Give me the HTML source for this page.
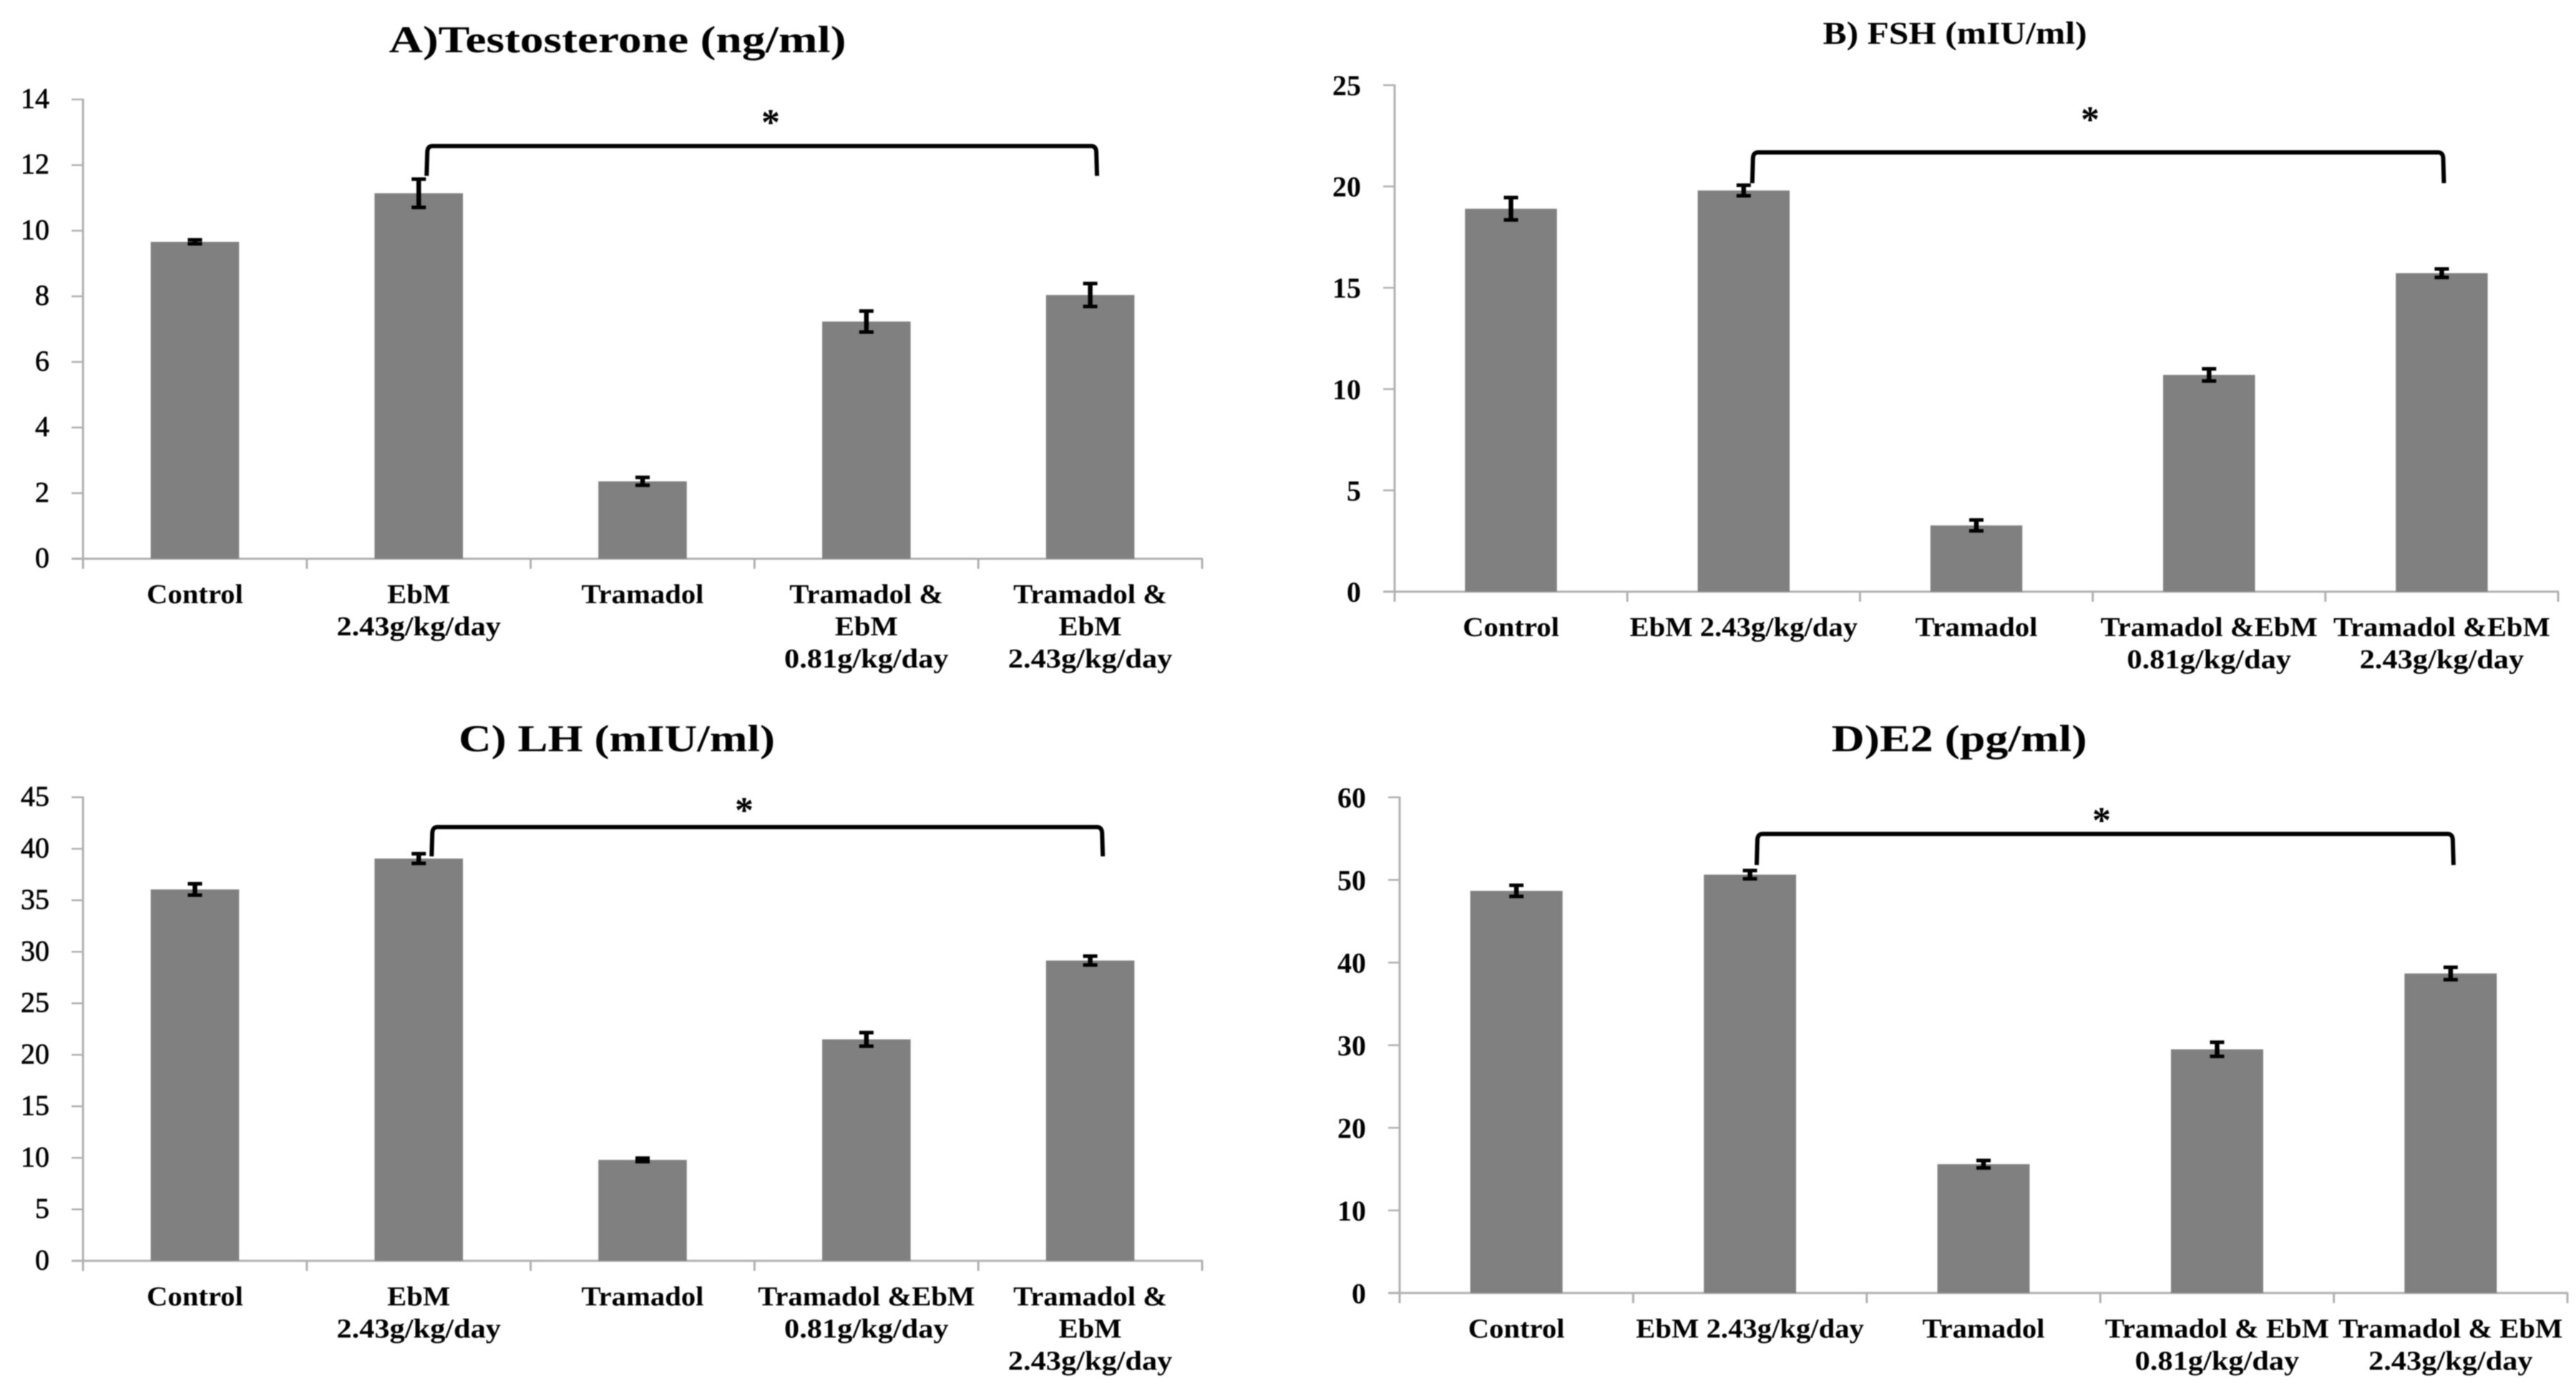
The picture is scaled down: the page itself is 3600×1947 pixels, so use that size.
<!DOCTYPE html>
<html lang="en">
<head>
<meta charset="utf-8">
<title>Hormone levels by treatment group</title>
<style>
  html, body { margin: 0; padding: 0; background: #fff; }
  body { width: 3600px; height: 1947px; overflow: hidden; }
  svg { display: block; filter: blur(0.8px); }
  text { font-family: "Liberation Serif", "Noto Serif CJK SC", serif; fill: #000; }
  .title { font-weight: bold; }
</style>
</head>
<body>
<svg id="figure" xmlns="http://www.w3.org/2000/svg" width="3600" height="1947" viewBox="0 0 3600 1947">
  <rect x="0" y="0" width="3600" height="1947" fill="#ffffff"/>
  <g id="panel-a">
    <text class="title" x="863" y="73" text-anchor="middle" font-size="53" textLength="639" lengthAdjust="spacingAndGlyphs">A)Testosterone (ng/ml)</text>
  </g>
  <g id="panel-b">
    <text class="title" x="2732" y="61" text-anchor="middle" font-size="44" textLength="369" lengthAdjust="spacingAndGlyphs">B) FSH (mIU/ml)</text>
  </g>
  <g id="panel-c">
    <text class="title" x="862" y="1050" text-anchor="middle" font-size="53" textLength="442" lengthAdjust="spacingAndGlyphs">C) LH (mIU/ml)</text>
  </g>
  <g id="panel-d">
    <text class="title" x="2738" y="1050" text-anchor="middle" font-size="53" textLength="357" lengthAdjust="spacingAndGlyphs">D)E2 (pg/ml)</text>
  </g>
</svg>
<script>
// ---- Panel A: Testosterone ----
const testosteroneCategories = [["Control"], ["EbM", "2.43g/kg/day"], ["Tramadol"], ["Tramadol &", "EbM", "0.81g/kg/day"], ["Tramadol &", "EbM", "2.43g/kg/day"]];
const testosteroneValues = [9.66, 11.14, 2.36, 7.23, 8.04];
const testosteroneErrors = [0.06, 0.43, 0.12, 0.32, 0.35];
const testosteroneTicks = [0, 2, 4, 6, 8, 10, 12, 14];

// ---- Panel B: FSH ----
const fshCategories = [["Control"], ["EbM 2.43g/kg/day"], ["Tramadol"], ["Tramadol &EbM", "0.81g/kg/day"], ["Tramadol &EbM", "2.43g/kg/day"]];
const fshValues = [18.9, 19.8, 3.27, 10.7, 15.72];
const fshErrors = [0.55, 0.26, 0.27, 0.3, 0.21];
const fshTicks = [0, 5, 10, 15, 20, 25];

// ---- Panel C: LH ----
const lhCategories = [["Control"], ["EbM", "2.43g/kg/day"], ["Tramadol"], ["Tramadol &EbM", "0.81g/kg/day"], ["Tramadol &", "EbM", "2.43g/kg/day"]];
const lhValues = [36.05, 39.05, 9.8, 21.5, 29.15];
const lhErrors = [0.55, 0.47, 0.17, 0.66, 0.43];
const lhTicks = [0, 5, 10, 15, 20, 25, 30, 35, 40, 45];

// ---- Panel D: E2 ----
const e2Categories = [["Control"], ["EbM 2.43g/kg/day"], ["Tramadol"], ["Tramadol & EbM", "0.81g/kg/day"], ["Tramadol & EbM", "2.43g/kg/day"]];
const e2Values = [48.68, 50.64, 15.6, 29.5, 38.68];
const e2Errors = [0.67, 0.5, 0.45, 0.85, 0.75];
const e2Ticks = [0, 10, 20, 30, 40, 50, 60];

const NS = "http://www.w3.org/2000/svg";

function make(tag, parent) {
  const el = document.createElementNS(NS, tag);
  parent.appendChild(el);
  return el;
}

function drawPanel(cfg) {
  const g = document.getElementById(cfg.id);
  const n = cfg.categories.length;
  const maxTick = cfg.ticks[cfg.ticks.length - 1];
  const xScale = (i) => cfg.x0 + (cfg.x1 - cfg.x0) * (i + 0.5) / n;
  const yScale = (v) => cfg.yBase - (cfg.yBase - cfg.yTop) * v / maxTick;
  const axisColor = "#b0b0b0";
  const band = (cfg.x1 - cfg.x0) / n;
  const barW = band * 0.395;

  // y axis line
  const yAxis = make("line", g);
  
  
  yAxis.setAttribute("x1", cfg.x0);
  yAxis.setAttribute("x2", cfg.x0);
  yAxis.setAttribute("y1", cfg.yTop - 1);
  yAxis.setAttribute("y2", cfg.yBase + 14);
  yAxis.setAttribute("stroke", axisColor);
  yAxis.setAttribute("stroke-width", 3);

  // x axis line
  const xAxis = make("line", g);
  
  
  xAxis.setAttribute("x1", cfg.x0 - 16);
  xAxis.setAttribute("x2", cfg.x1 + 1);
  xAxis.setAttribute("y1", cfg.yBase);
  xAxis.setAttribute("y2", cfg.yBase);
  xAxis.setAttribute("stroke", axisColor);
  xAxis.setAttribute("stroke-width", 3);

  // y ticks and labels
  cfg.ticks.forEach((t) => {
    const y = yScale(t);
    const mark = make("line", g);
    
    
    mark.setAttribute("x1", cfg.x0 - 16);
    mark.setAttribute("x2", cfg.x0);
    mark.setAttribute("y1", y);
    mark.setAttribute("y2", y);
    mark.setAttribute("stroke", axisColor);
    mark.setAttribute("stroke-width", 2.5);

    const label = make("text", g);
    
    
    label.setAttribute("x", cfg.x0 - 47);
    label.setAttribute("y", y + (cfg.boldTicks ? 14 : 12));
    label.setAttribute("text-anchor", "end");
    label.setAttribute("font-size", 40);
    if (cfg.boldTicks) {
      label.setAttribute("font-weight", "bold");
    } else {
      label.setAttribute("stroke", "#000");
      label.setAttribute("stroke-width", 0.7);
    }
    label.textContent = String(t);
  });

  // x ticks at category boundaries
  for (let i = 0; i <= n; i++) {
    const x = cfg.x0 + band * i;
    const mark = make("line", g);
    
    
    mark.setAttribute("x1", x);
    mark.setAttribute("x2", x);
    mark.setAttribute("y1", cfg.yBase);
    mark.setAttribute("y2", cfg.yBase + 14);
    mark.setAttribute("stroke", axisColor);
    mark.setAttribute("stroke-width", 3);
  }

  // bars, error bars, category labels
  cfg.values.forEach((v, i) => {
    const cx = xScale(i);
    const top = yScale(v);

    const bar = make("rect", g);
    
    
    bar.setAttribute("x", cx - barW / 2);
    bar.setAttribute("y", top);
    bar.setAttribute("width", barW);
    bar.setAttribute("height", cfg.yBase - top);
    bar.setAttribute("fill", "#808080");

    const hi = yScale(v + cfg.errors[i]);
    const lo = yScale(v - cfg.errors[i]);
    const err = make("path", g);
    
    
    err.setAttribute("d", "M" + (cx - 10) + " " + hi + "H" + (cx + 10) + "M" + (cx - 10) + " " + lo + "H" + (cx + 10));
    err.setAttribute("stroke", "#000");
    err.setAttribute("stroke-width", 5);
    err.setAttribute("fill", "none");

    const stem = make("line", g);
    
    
    stem.setAttribute("x1", cx);
    stem.setAttribute("x2", cx);
    stem.setAttribute("y1", hi);
    stem.setAttribute("y2", lo);
    stem.setAttribute("stroke", "#000");
    stem.setAttribute("stroke-width", 6.5);

    cfg.categories[i].forEach((line, j) => {
      const label = make("text", g);
      
      
      label.setAttribute("x", cx);
      label.setAttribute("y", cfg.yBase + 62 + j * 45);
      label.setAttribute("text-anchor", "middle");
      label.setAttribute("font-size", 38);
      label.setAttribute("font-weight", "bold");
      label.setAttribute("lengthAdjust", "spacingAndGlyphs");
      label.textContent = line;
      const widen = /^\d/.test(line) ? 1.115 : 1.07;
      label.setAttribute("textLength", label.getComputedTextLength() * widen);
    });
  });

  // significance bracket
  const bx0 = xScale(cfg.bracketFrom) + cfg.bracketOffsetLeft;
  const bx1 = xScale(cfg.bracketTo) + cfg.bracketOffsetRight;
  const byTop = yScale(cfg.bracketTop);
  const byBottom = yScale(cfg.bracketBottom);
  const bracket = make("path", g);
  
  
  bracket.setAttribute("d",
    "M" + bx0 + " " + byBottom +
    "L" + (bx0 + 1) + " " + (byTop + 8) +
    "Q" + (bx0 + 1.5) + " " + byTop + " " + (bx0 + 8) + " " + byTop +
    "H" + (bx1 - 8) +
    "Q" + (bx1 - 1.5) + " " + byTop + " " + (bx1 - 1) + " " + (byTop + 8) +
    "L" + bx1 + " " + byBottom);
  bracket.setAttribute("fill", "none");
  bracket.setAttribute("stroke", "#000");
  bracket.setAttribute("stroke-width", 6);

  const star = make("text", g);
  
  
  star.setAttribute("x", cfg.starX);
  star.setAttribute("y", yScale(cfg.starLevel) + 22);
  star.setAttribute("text-anchor", "middle");
  star.setAttribute("font-size", 52);
  star.setAttribute("font-weight", "bold");
  star.textContent = "*";
}

drawPanel({
  id: "panel-a", x0: 116, x1: 1680, yBase: 781, yTop: 139, boldTicks: false,
  categories: testosteroneCategories, values: testosteroneValues, errors: testosteroneErrors, ticks: testosteroneTicks,
  bracketFrom: 1, bracketTo: 4, bracketOffsetLeft: 11, bracketOffsetRight: 9.5, bracketTop: 12.58, bracketBottom: 11.67,
  starX: 1077, starLevel: 13.41
});
drawPanel({
  id: "panel-b", x0: 1949, x1: 3575, yBase: 827, yTop: 119, boldTicks: true,
  categories: fshCategories, values: fshValues, errors: fshErrors, ticks: fshTicks,
  bracketFrom: 1, bracketTo: 4, bracketOffsetLeft: 12, bracketOffsetRight: 3, bracketTop: 21.68, bracketBottom: 20.16,
  starX: 2921, starLevel: 23.48
});
drawPanel({
  id: "panel-c", x0: 116, x1: 1680, yBase: 1762.3, yTop: 1114.3, boldTicks: false,
  categories: lhCategories, values: lhValues, errors: lhErrors, ticks: lhTicks,
  bracketFrom: 1, bracketTo: 4, bracketOffsetLeft: 18, bracketOffsetRight: 17.6, bracketTop: 42.1, bracketBottom: 39.26,
  starX: 1040, starLevel: 44.1
});
drawPanel({
  id: "panel-d", x0: 1956, x1: 3588, yBase: 1807.3, yTop: 1114.4, boldTicks: true,
  categories: e2Categories, values: e2Values, errors: e2Errors, ticks: e2Ticks,
  bracketFrom: 1, bracketTo: 4, bracketOffsetLeft: 9.4, bracketOffsetRight: 4, bracketTop: 55.56, bracketBottom: 51.8,
  starX: 2937, starLevel: 57.64
});
</script>
</body>
</html>
